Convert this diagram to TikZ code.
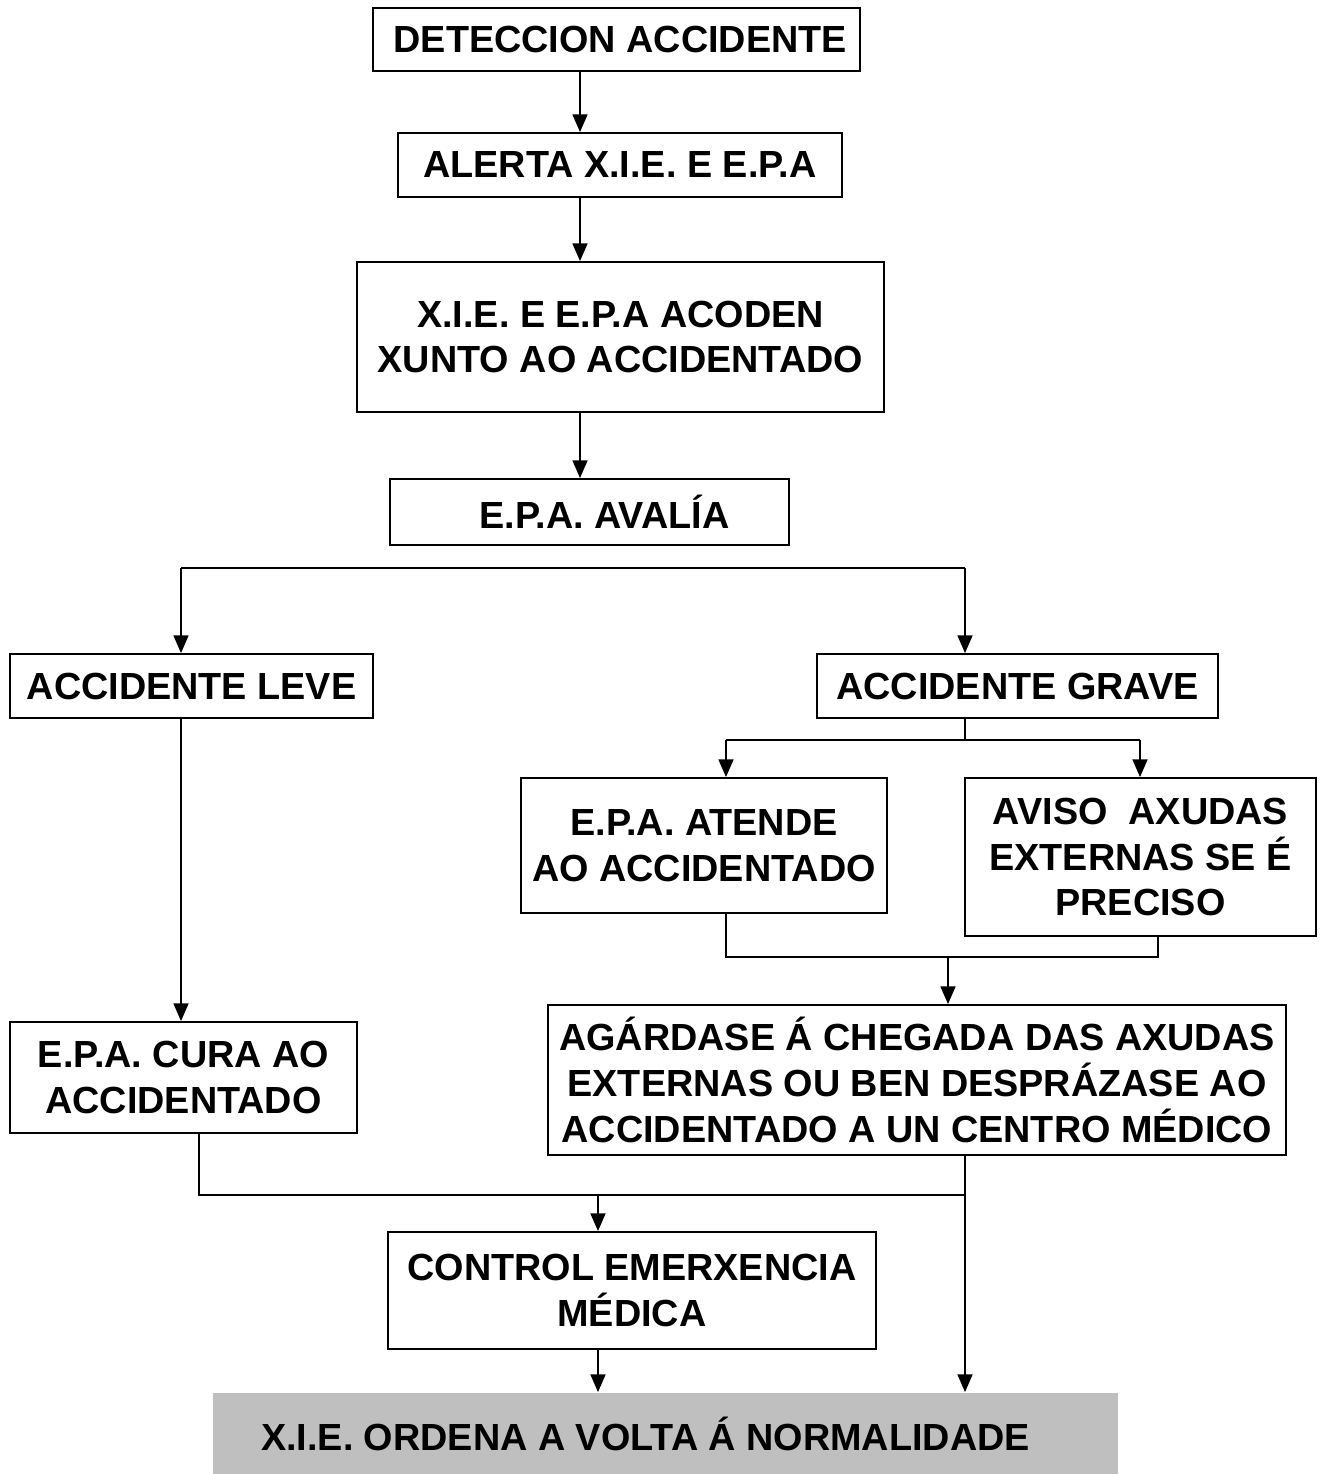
\documentclass[tikz,border=0pt]{standalone}
\usepackage{fontspec}
\setmainfont{Liberation Sans}
\usepackage{tikz}
\usetikzlibrary{calc}
\usetikzlibrary{arrows.meta}

\begin{document}
\begin{tikzpicture}[x=0.02cm,y=-0.02cm,
    box/.style={draw, line width=1.1pt, align=center, inner sep=0pt,
                font=\fontsize{21.5}{26}\selectfont\bfseries},
    line/.style={line width=0.9pt},
    arr/.style={line width=0.9pt, -{Triangle[length=10pt,width=8.5pt]}}]
                            \useasboundingbox (0,0) rectangle (1322,1474);%

                            % Changing color 192 192 192
                            \definecolor{r192g192b192}{rgb}{0.750000,0.750000,0.750000}%

                            % Drawing boxes
                            \node [box, minimum width=9.74cm, minimum height=1.26cm] (detec) at (616.5,39.5) {\hspace*{0.15cm}DETECCION ACCIDENTE};%
                            \node [box, minimum width=8.88cm, minimum height=1.28cm] (alerta) at (620,165) {ALERTA X.I.E. E E.P.A};%
                            \node [box, minimum width=10.54cm, minimum height=3.00cm] (acoden) at (620.5,337) {\rule{0pt}{0.5cm}X.I.E. E E.P.A ACODEN\\XUNTO AO ACCIDENTADO};%
                            \node [box, minimum width=7.98cm, minimum height=1.32cm] (avalia) at (589.5,512) {\hspace*{0.6cm}E.P.A. AVALÍA};%
                            \node [box, minimum width=7.26cm, minimum height=1.28cm] (leve) at (191.5,686) {ACCIDENTE LEVE};%
                            \node [box, minimum width=8.02cm, minimum height=1.28cm] (grave) at (1017.5,686) {ACCIDENTE GRAVE};%
                            \node [box, minimum width=7.32cm, minimum height=2.70cm] (atende) at (704,845.5) {E.P.A. ATENDE\\AO ACCIDENTADO};%
                            \node [box, minimum width=7.02cm, minimum height=3.16cm] (aviso) at (1140.5,857) {\rule{0pt}{0.4cm}AVISO\ \ AXUDAS\\EXTERNAS SE É\\PRECISO};%
                            \node [box, minimum width=6.94cm, minimum height=2.22cm] (cura) at (183.5,1077.5) {E.P.A. CURA AO\\ACCIDENTADO};%
                            \node [box, minimum width=14.76cm, minimum height=3.00cm] (agard) at (917,1080) {AGÁRDASE Á CHEGADA DAS AXUDAS\\EXTERNAS OU BEN DESPRÁZASE AO\\ACCIDENTADO A UN CENTRO MÉDICO};%
                            \node [box, minimum width=9.76cm, minimum height=2.34cm] (control) at (632,1290.5) {CONTROL EMERXENCIA\\MÉDICA};%
                            \node [box, draw=none, fill=r192g192b192, minimum width=18.10cm, minimum height=1.62cm] (final) at (665.5,1433.5) {X.I.E. ORDENA A VOLTA Á NORMALIDADE\hspace*{0.8cm}};%

                            % Guide coordinates for connectors
                            \coordinate (cA) at (580,0);%
                            \coordinate (cL) at (181,0);%
                            \coordinate (cL2) at (199,0);%
                            \coordinate (cR) at (965,0);%
                            \coordinate (cR2) at (1158,0);%
                            \coordinate (cG1) at (726,0);%
                            \coordinate (cG2) at (1140,0);%
                            \coordinate (cM) at (948,0);%
                            \coordinate (cC) at (598,0);%
                            \coordinate (split) at (0,568);%
                            \coordinate (split2) at (0,740);%
                            \coordinate (join) at (0,957);%
                            \coordinate (join2) at (0,1195);%

                            % Drawing main column
                            \draw [arr] (detec.south -| cA) -- (alerta.north -| cA);%
                            \draw [arr] (alerta.south -| cA) -- (acoden.north -| cA);%
                            \draw [arr] (acoden.south -| cA) -- (avalia.north -| cA);%

                            % Drawing split leve / grave
                            \draw [line] (split -| cL) -- (split -| cR);%
                            \draw [arr] (split -| cL) -- (leve.north -| cL);%
                            \draw [arr] (split -| cR) -- (grave.north -| cR);%
                            \draw [arr] (leve.south -| cL) -- (cura.north -| cL);%

                            % Drawing grave branch
                            \draw [line] (grave.south -| cR) -- (split2 -| cR);%
                            \draw [line] (split2 -| cG1) -- (split2 -| cG2);%
                            \draw [arr] (split2 -| cG1) -- (atende.north -| cG1);%
                            \draw [arr] (split2 -| cG2) -- (aviso.north -| cG2);%
                            \draw [line] (atende.south -| cG1) -- (join -| cG1) -- (join -| cR2) -- (aviso.south -| cR2);%
                            \draw [arr] (join -| cM) -- (agard.north -| cM);%

                            % Drawing bottom part
                            \draw [line] (cura.south -| cL2) -- (join2 -| cL2) -- (join2 -| cR);%
                            \draw [arr] (join2 -| cC) -- (control.north -| cC);%
                            \draw [arr] (agard.south -| cR) -- (final.north -| cR);%
                            \draw [arr] (control.south -| cC) -- (final.north -| cC);%
\end{tikzpicture}
\end{document}
